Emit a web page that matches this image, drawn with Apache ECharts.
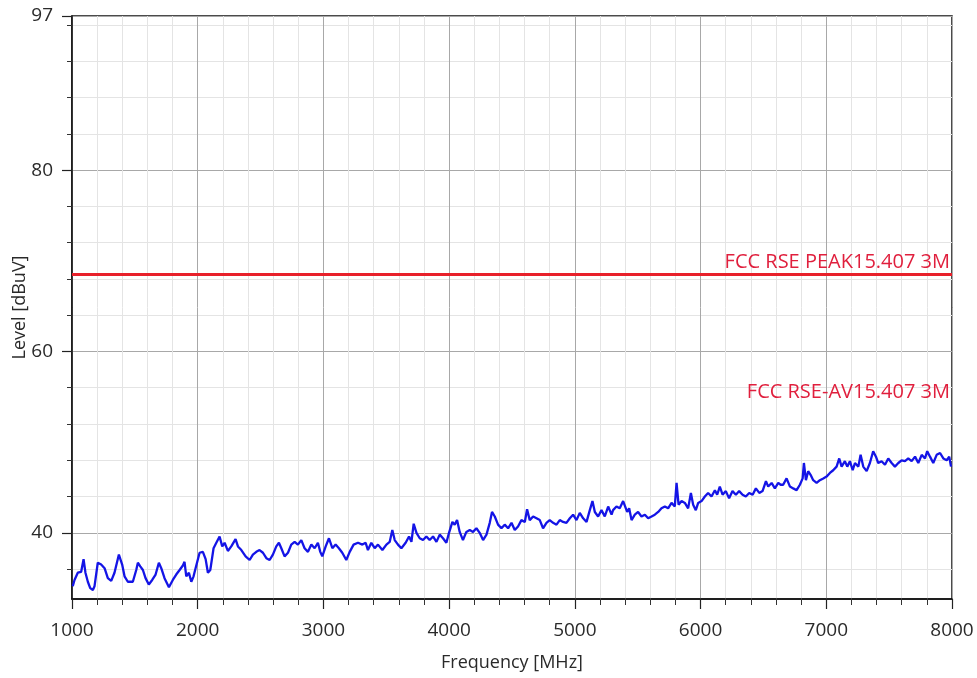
<!DOCTYPE html>
<html>
<head>
<meta charset="utf-8">
<script src="https://cdn.jsdelivr.net/npm/echarts@6/dist/echarts.min.js"></script>
<style>
html,body{margin:0;padding:0;background:#fff;}
#chart{width:977px;height:678px;}
</style>
</head>
<body>
<div id="chart"></div>
<script>
// ---- data ----
const freqs = [
1006,1020,1046,1073,1092,1107,1126,1145,1166,1179,1205,1232,1259,1285,1312,1338,1373,1399,1418,1444,
1484,1511,1524,1543,1564,1585,1611,1638,1665,1691,1710,1736,1771,1802,1829,1856,1882,1895,1909,1930,
1949,1967,1983,2015,2041,2063,2081,2100,2126,2148,2174,2195,2214,2240,2267,2301,2320,2347,2381,2413,
2439,2466,2492,2519,2546,2572,2598,2625,2646,2665,2691,2718,2744,2771,2797,2824,2850,2877,2904,2930,
2956,2975,2991,3018,3044,3071,3097,3123,3150,3182,3209,3240,3275,3310,3336,3354,3381,3408,3434,3469,
3501,3527,3548,3567,3593,3620,3654,3681,3700,3718,3740,3766,3792,3819,3845,3872,3899,3925,3951,3978,
3999,4026,4044,4063,4084,4110,4137,4164,4190,4217,4243,4270,4297,4323,4341,4363,4389,4416,4442,4469,
4496,4522,4548,4575,4602,4620,4641,4668,4695,4721,4747,4774,4800,4827,4854,4880,4906,4933,4960,4986,
5013,5039,5066,5093,5119,5140,5159,5185,5212,5238,5265,5292,5304,5331,5357,5384,5397,5416,5432,5451,
5477,5503,5530,5557,5583,5610,5636,5663,5689,5716,5742,5769,5795,5809,5825,5849,5875,5901,5923,5941,
5962,5981,6008,6034,6060,6087,6114,6132,6153,6175,6201,6227,6254,6281,6307,6334,6360,6387,6414,6440,
6467,6493,6520,6538,6565,6591,6618,6637,6657,6684,6711,6737,6764,6790,6812,6822,6838,6856,6875,6896,
6923,6949,6976,7002,7029,7055,7082,7103,7122,7148,7167,7188,7210,7228,7255,7273,7294,7321,7347,7373,
7395,7413,7440,7467,7493,7520,7546,7573,7599,7626,7652,7679,7706,7732,7759,7785,7803,7825,7851,7878,
7905,7931,7958,7978,7992
];
const levels = [
34.1,34.8,35.6,35.7,37.1,35.6,34.6,33.9,33.7,34.1,36.7,36.5,36.1,35.0,34.7,35.6,37.6,36.5,35.2,34.6,
34.6,35.9,36.7,36.3,35.9,35.0,34.3,34.8,35.4,36.7,36.1,35.0,34.0,34.8,35.4,35.9,36.4,36.8,35.2,35.6,
34.6,35.2,36.1,37.8,37.9,37.1,35.6,35.9,38.3,38.9,39.6,38.5,38.9,38.0,38.5,39.3,38.5,38.1,37.4,37.0,
37.6,37.9,38.1,37.8,37.2,37.0,37.6,38.5,38.9,38.3,37.4,37.8,38.7,39.0,38.7,39.2,38.3,37.9,38.7,38.3,
38.9,37.9,37.4,38.5,39.4,38.3,38.7,38.3,37.8,37.0,37.9,38.7,38.9,38.7,38.9,38.1,38.9,38.3,38.7,38.1,
38.7,39.0,40.3,39.2,38.7,38.3,38.9,39.6,39.0,41.0,40.0,39.4,39.2,39.6,39.2,39.6,39.0,39.8,39.4,38.9,
40.0,41.2,40.9,41.4,40.1,39.2,40.1,40.3,40.1,40.5,40.0,39.2,39.8,41.1,42.3,41.8,40.9,40.5,40.9,40.5,
41.1,40.3,40.7,41.4,41.2,42.6,41.4,41.8,41.6,41.4,40.5,41.1,41.4,41.1,40.9,41.4,41.2,41.1,41.6,42.0,
41.4,42.2,41.6,41.2,42.5,43.5,42.3,41.8,42.5,41.8,42.9,42.0,42.5,42.9,42.7,43.5,43.6,42.3,42.7,41.4,
42.0,42.3,41.8,42.0,41.6,41.8,42.0,42.3,42.7,42.9,42.7,43.3,42.9,45.5,43.1,43.5,43.3,42.7,44.4,43.1,
42.5,43.3,43.5,44.0,44.4,44.0,44.7,44.2,45.1,44.2,44.6,43.8,44.6,44.2,44.6,44.2,44.0,44.4,44.2,44.9,
44.4,44.6,45.7,45.1,45.5,44.9,45.5,45.3,45.3,46.0,45.1,44.9,44.7,45.3,46.0,47.7,45.8,46.8,46.4,45.8,
45.5,45.8,46.0,46.2,46.6,46.9,47.3,48.2,47.3,47.9,47.3,47.9,46.9,47.7,47.3,48.6,47.3,46.8,47.7,49.0,
48.4,47.7,47.9,47.5,48.2,47.7,47.3,47.7,48.0,47.9,48.2,47.9,48.4,47.7,48.6,48.2,49.0,48.4,47.7,48.6,
48.8,48.2,48.0,48.4,47.3
];
const xTicks = [1000,2000,3000,4000,5000,6000,7000,8000];
const yMajorTicks = [40,60,80,97];
const yMinorTicks = [36,44,48,52,56,64,68,72,76,84,88,92,96];
const limitNames = ['FCC RSE PEAK15.407 3M','FCC RSE-AV15.407 3M'];
const limitValues = [68.5,54.2];
const xRange = [1000,8000];
const yRange = [32.7,97];

// ---- chart ----
const FONT = '"Open Sans", "Noto Sans", sans-serif';
const chart = echarts.init(document.getElementById('chart'), null, {renderer:'canvas'});
const traceData = freqs.map((f,i)=>[f, levels[i]]);

chart.setOption({
  animation:false,
  backgroundColor:'#ffffff',
  grid:{left:72, right:25, top:16, bottom:79, outerBoundsMode:'none', containLabel:false,
        show:true, borderColor:'#111', borderWidth:1.5, backgroundColor:'transparent'},
  xAxis:{
    type:'value', min:xRange[0], max:xRange[1], interval:1000,
    name:'Frequency [MHz]', nameLocation:'middle', nameGap:55, nameMoveOverlap:false,
    nameTextStyle:{fontFamily:FONT, fontSize:18, color:'#2a2a2a'},
    axisLine:{show:true, lineStyle:{color:'#111', width:1.5}},
    axisTick:{show:true, length:10, lineStyle:{color:'#222', width:1.2}},
    minorTick:{show:true, splitNumber:5, length:6, lineStyle:{color:'#333', width:1}},
    axisLabel:{fontFamily:FONT, fontSize:19, color:'#2a2a2a', margin:22, customValues:xTicks,
               formatter:(v)=>String(v)},
    splitLine:{show:true, lineStyle:{color:'#a8a8a8', width:1}},
    minorSplitLine:{show:true, lineStyle:{color:'#e4e4e4', width:1}}
  },
  yAxis:[{
    type:'value', min:yRange[0], max:yRange[1],
    name:'Level [dBuV]', nameLocation:'middle', nameGap:43, nameMoveOverlap:false,
    nameTextStyle:{fontFamily:FONT, fontSize:18, color:'#2a2a2a'},
    axisLine:{show:true, lineStyle:{color:'#111', width:1.5}},
    axisTick:{show:true, length:10, customValues:yMajorTicks, lineStyle:{color:'#222', width:1.2}},
    axisLabel:{fontFamily:FONT, fontSize:19, color:'#2a2a2a', margin:19, customValues:yMajorTicks,
               formatter:(v)=>String(v)},
    splitLine:{show:true, lineStyle:{color:'#a8a8a8', width:1}}
  },{
    type:'value', min:yRange[0], max:yRange[1], position:'left',
    axisLine:{show:false},
    axisTick:{show:true, length:5, customValues:yMinorTicks, lineStyle:{color:'#333', width:1}},
    axisLabel:{show:false},
    splitLine:{show:true, lineStyle:{color:'#e4e4e4', width:1}}
  }],
  series:[{
    type:'line', data:traceData, showSymbol:false, symbol:'none', z:5,
    lineStyle:{color:'#1414e6', width:2.3},
    markLine:{
      silent:true, symbol:'none',
      data:[
        {yAxis:limitValues[0], name:limitNames[0],
         lineStyle:{color:'#e8202a', width:3, type:'solid'},
         label:{show:true, position:'insideEndTop', formatter:limitNames[0], distance:2, color:'#e01f3d', fontFamily:FONT, fontSize:20}},
        {yAxis:limitValues[1], name:limitNames[1],
         lineStyle:{color:'rgba(255,255,255,0)', width:1, type:'solid'},
         label:{show:true, position:'insideEndTop', formatter:limitNames[1], distance:2, color:'#e01f3d', fontFamily:FONT, fontSize:20}}
      ]
    }
  }]
});
</script>
</body>
</html>
